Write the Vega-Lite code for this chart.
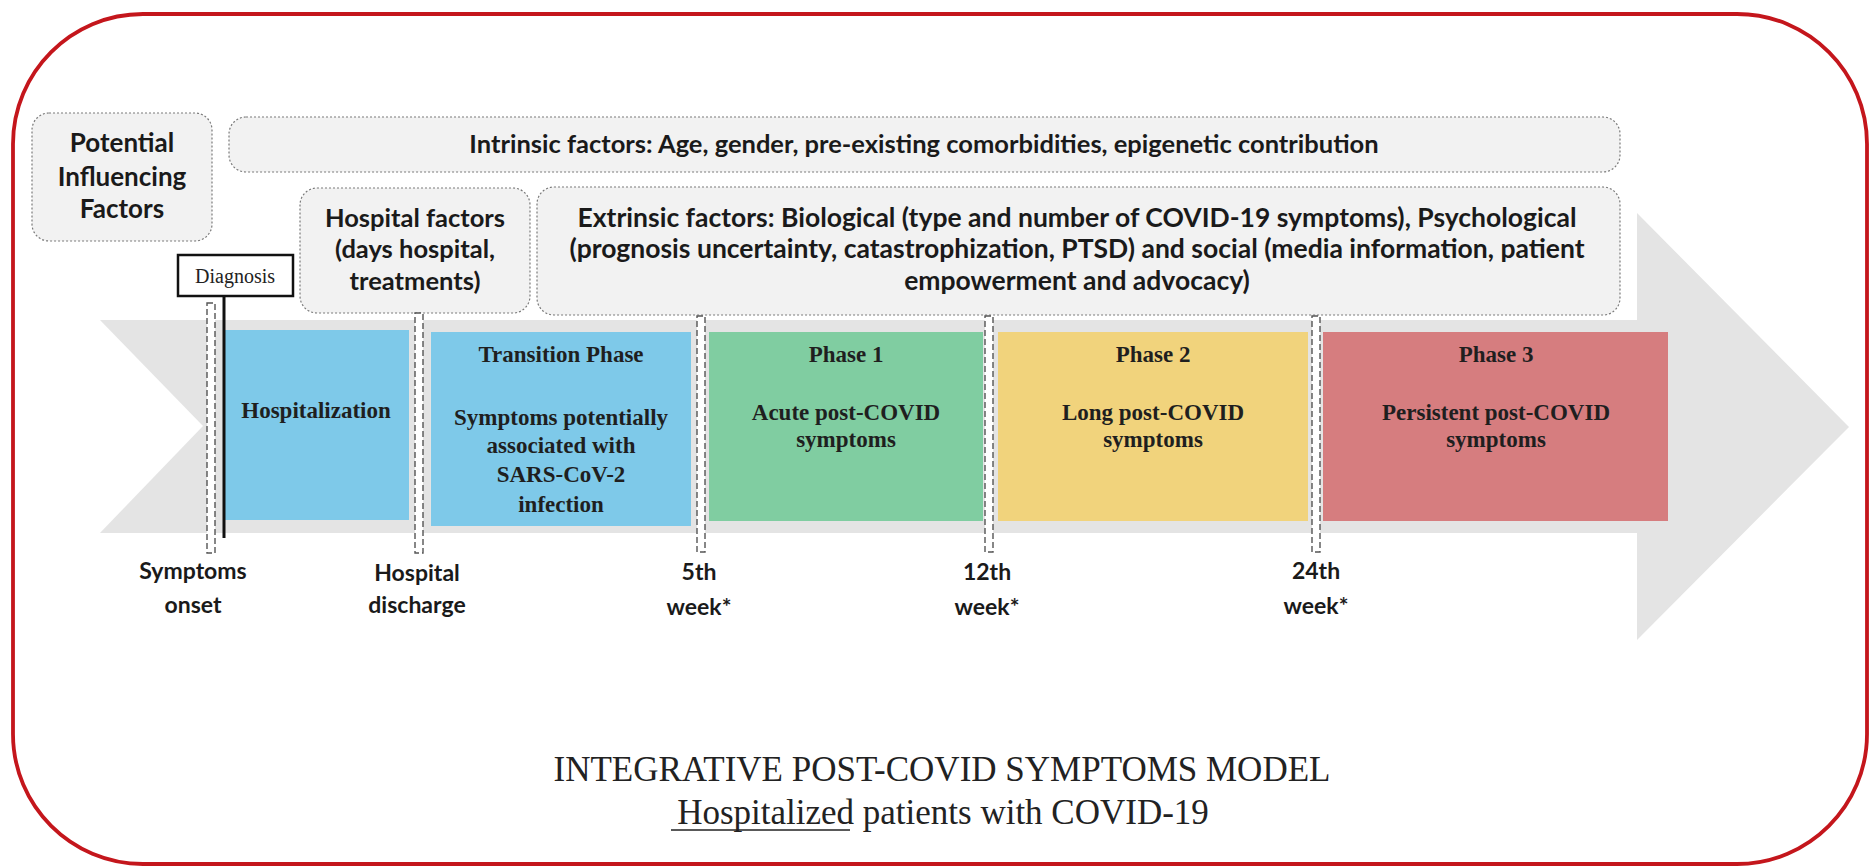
{
  "$schema": "https://vega.github.io/schema/vega-lite/v6.json",
  "width": 1872,
  "height": 867,
  "autosize": {"type": "fit", "contains": "padding"},
  "padding": 0,
  "background": "white",
  "config": {"view": {"stroke": null}},
  "datasets": {
    "border": [{"x": 13, "x2": 1867, "y": 14, "y2": 864}],
    "arrowBody": [{"x": 100, "x2": 1637, "y": 320, "y2": 533}],
    "arrowHead": [
      {"x": 1637, "y": 213, "y2": 640},
      {"x": 1849, "y": 427, "y2": 427}
    ],
    "notch": [
      {"x": 99, "y": 319, "y2": 534},
      {"x": 203, "y": 426, "y2": 426}
    ],
    "factorBoxes": [
      {"name": "Potential", "x": 32, "x2": 212, "y": 113, "y2": 241},
      {"name": "Intrinsic", "x": 229, "x2": 1620, "y": 117, "y2": 172},
      {"name": "Hospital", "x": 300, "x2": 530, "y": 188, "y2": 313},
      {"name": "Extrinsic", "x": 537, "x2": 1620, "y": 187, "y2": 315}
    ],
    "phases": [
      {"phase": "Hospitalization", "x": 224, "x2": 409, "y": 330, "y2": 520},
      {"phase": "Transition", "x": 431, "x2": 691, "y": 332, "y2": 526},
      {"phase": "Phase 1", "x": 709, "x2": 983, "y": 332, "y2": 521},
      {"phase": "Phase 2", "x": 998, "x2": 1308, "y": 332, "y2": 521},
      {"phase": "Phase 3", "x": 1323, "x2": 1668, "y": 332, "y2": 521}
    ],
    "markers": [
      {"label": "Symptoms onset", "x": 207, "x2": 215, "y": 303, "y2": 553},
      {"label": "Hospital discharge", "x": 415, "x2": 423, "y": 313, "y2": 553},
      {"label": "5th week", "x": 697, "x2": 705, "y": 316, "y2": 552},
      {"label": "12th week", "x": 985, "x2": 993, "y": 316, "y2": 552},
      {"label": "24th week", "x": 1312, "x2": 1320, "y": 316, "y2": 552}
    ],
    "diagLine": [{"x": 224, "y": 296, "y2": 538}],
    "diagBox": [{"x": 178, "x2": 293, "y": 255, "y2": 296}],
    "diagText": [{"t": "Diagnosis", "x": 235, "y": 283}],
    "potentialText": [
      {"t": "Potential", "x": 122, "y": 152},
      {"t": "Influencing", "x": 122, "y": 186},
      {"t": "Factors", "x": 122, "y": 218}
    ],
    "factorText": [
      {"t": "Intrinsic factors: Age, gender, pre-existing comorbidities, epigenetic contribution", "x": 924, "y": 153},
      {"t": "Hospital factors", "x": 415, "y": 227},
      {"t": "(days hospital,", "x": 415, "y": 258},
      {"t": "treatments)", "x": 415, "y": 290}
    ],
    "extrinsicText": [
      {"t": "Extrinsic factors: Biological (type and number of COVID-19 symptoms),  Psychological", "x": 1077, "y": 227},
      {"t": "(prognosis uncertainty, catastrophization, PTSD) and social (media information, patient", "x": 1077, "y": 258},
      {"t": "empowerment and advocacy)", "x": 1077, "y": 290}
    ],
    "phaseText": [
      {"t": "Hospitalization", "x": 316, "y": 418},
      {"t": "Transition  Phase", "x": 561, "y": 362},
      {"t": "Symptoms  potentially", "x": 561, "y": 425},
      {"t": "associated with", "x": 561, "y": 453},
      {"t": "SARS-CoV-2", "x": 561, "y": 482},
      {"t": "infection", "x": 561, "y": 512},
      {"t": "Phase 1", "x": 846, "y": 362},
      {"t": "Acute post-COVID", "x": 846, "y": 420},
      {"t": "symptoms", "x": 846, "y": 447},
      {"t": "Phase 2", "x": 1153, "y": 362},
      {"t": "Long post-COVID", "x": 1153, "y": 420},
      {"t": "symptoms", "x": 1153, "y": 447},
      {"t": "Phase 3", "x": 1496, "y": 362},
      {"t": "Persistent post-COVID", "x": 1496, "y": 420},
      {"t": "symptoms", "x": 1496, "y": 447}
    ],
    "timeText": [
      {"t": "Symptoms", "x": 193, "y": 579},
      {"t": "onset", "x": 193, "y": 613},
      {"t": "Hospital", "x": 417, "y": 581},
      {"t": "discharge", "x": 417, "y": 613},
      {"t": "5th", "x": 699, "y": 580},
      {"t": "week*", "x": 699, "y": 615},
      {"t": "12th", "x": 987, "y": 580},
      {"t": "week*", "x": 987, "y": 615},
      {"t": "24th", "x": 1316, "y": 579},
      {"t": "week*", "x": 1316, "y": 614}
    ],
    "titleText": [
      {"t": "INTEGRATIVE POST-COVID SYMPTOMS MODEL", "x": 942, "y": 781},
      {"t": "Hospitalized patients with COVID-19", "x": 943, "y": 824}
    ],
    "underline": [{"x": 671, "x2": 850, "y": 830}]
  },
  "encoding": {
    "x": {"field": "x", "type": "quantitative", "scale": {"domain": [0, 1872], "nice": false, "zero": false}, "axis": null},
    "y": {"field": "y", "type": "quantitative", "scale": {"domain": [0, 867], "nice": false, "zero": false, "reverse": true}, "axis": null}
  },
  "layer": [
    {
      "data": {"name": "border"},
      "mark": {"type": "rect", "fill": "white", "stroke": "#C4161C", "strokeWidth": 3.8, "cornerRadius": 130},
      "encoding": {"x2": {"field": "x2"}, "y2": {"field": "y2"}}
    },
    {
      "data": {"name": "arrowBody"},
      "mark": {"type": "rect", "fill": "#E4E4E4"},
      "encoding": {"x2": {"field": "x2"}, "y2": {"field": "y2"}}
    },
    {
      "data": {"name": "arrowHead"},
      "mark": {"type": "area", "color": "#E4E4E4", "opacity": 1, "orient": "vertical"},
      "encoding": {"y2": {"field": "y2"}}
    },
    {
      "data": {"name": "notch"},
      "mark": {"type": "area", "color": "white", "opacity": 1, "orient": "vertical"},
      "encoding": {"y2": {"field": "y2"}}
    },
    {
      "data": {"name": "factorBoxes"},
      "mark": {"type": "rect", "fill": "#F2F2F2", "stroke": "#7A7A7A", "strokeWidth": 1.2, "strokeDash": [2, 2], "cornerRadius": 17},
      "encoding": {"x2": {"field": "x2"}, "y2": {"field": "y2"}}
    },
    {
      "data": {"name": "phases"},
      "mark": {"type": "rect", "opacity": 1},
      "encoding": {
        "x2": {"field": "x2"},
        "y2": {"field": "y2"},
        "color": {
          "field": "phase",
          "type": "nominal",
          "scale": {"domain": ["Hospitalization", "Transition", "Phase 1", "Phase 2", "Phase 3"], "range": ["#7EC9E9", "#7EC9E9", "#80CDA1", "#F1D37C", "#D67D7F"]},
          "legend": null
        }
      }
    },
    {
      "data": {"name": "markers"},
      "mark": {"type": "rect", "fill": "white", "stroke": "#555555", "strokeWidth": 1.4, "strokeDash": [6, 3]},
      "encoding": {"x2": {"field": "x2"}, "y2": {"field": "y2"}}
    },
    {
      "data": {"name": "diagLine"},
      "mark": {"type": "rule", "color": "#111111", "strokeWidth": 3},
      "encoding": {"y2": {"field": "y2"}}
    },
    {
      "data": {"name": "diagBox"},
      "mark": {"type": "rect", "fill": "white", "stroke": "#111111", "strokeWidth": 2.5},
      "encoding": {"x2": {"field": "x2"}, "y2": {"field": "y2"}}
    },
    {
      "data": {"name": "diagText"},
      "mark": {"type": "text", "font": "Liberation Serif", "fontSize": 20, "align": "center", "baseline": "alphabetic", "color": "#222222"},
      "encoding": {"text": {"field": "t"}}
    },
    {
      "data": {"name": "potentialText"},
      "mark": {"type": "text", "font": "Lato", "fontWeight": "bold", "fontSize": 26, "align": "center", "baseline": "alphabetic", "color": "#1a1a1a"},
      "encoding": {"text": {"field": "t"}}
    },
    {
      "data": {"name": "factorText"},
      "mark": {"type": "text", "font": "Lato", "fontWeight": "bold", "fontSize": 25.5, "align": "center", "baseline": "alphabetic", "color": "#1a1a1a"},
      "encoding": {"text": {"field": "t"}}
    },
    {
      "data": {"name": "extrinsicText"},
      "mark": {"type": "text", "font": "Lato", "fontWeight": "bold", "fontSize": 26.5, "align": "center", "baseline": "alphabetic", "color": "#1a1a1a"},
      "encoding": {"text": {"field": "t"}}
    },
    {
      "data": {"name": "phaseText"},
      "mark": {"type": "text", "font": "Liberation Serif", "fontWeight": "bold", "fontSize": 23, "align": "center", "baseline": "alphabetic", "color": "#1f1f1f"},
      "encoding": {"text": {"field": "t"}}
    },
    {
      "data": {"name": "timeText"},
      "mark": {"type": "text", "font": "Lato", "fontWeight": "bold", "fontSize": 23, "align": "center", "baseline": "alphabetic", "color": "#1a1a1a"},
      "encoding": {"text": {"field": "t"}}
    },
    {
      "data": {"name": "titleText"},
      "mark": {"type": "text", "font": "Liberation Serif", "fontSize": 35, "align": "center", "baseline": "alphabetic", "color": "#222222"},
      "encoding": {"text": {"field": "t"}}
    },
    {
      "data": {"name": "underline"},
      "mark": {"type": "rule", "color": "#222222", "strokeWidth": 1.6},
      "encoding": {"x2": {"field": "x2"}}
    }
  ]
}
